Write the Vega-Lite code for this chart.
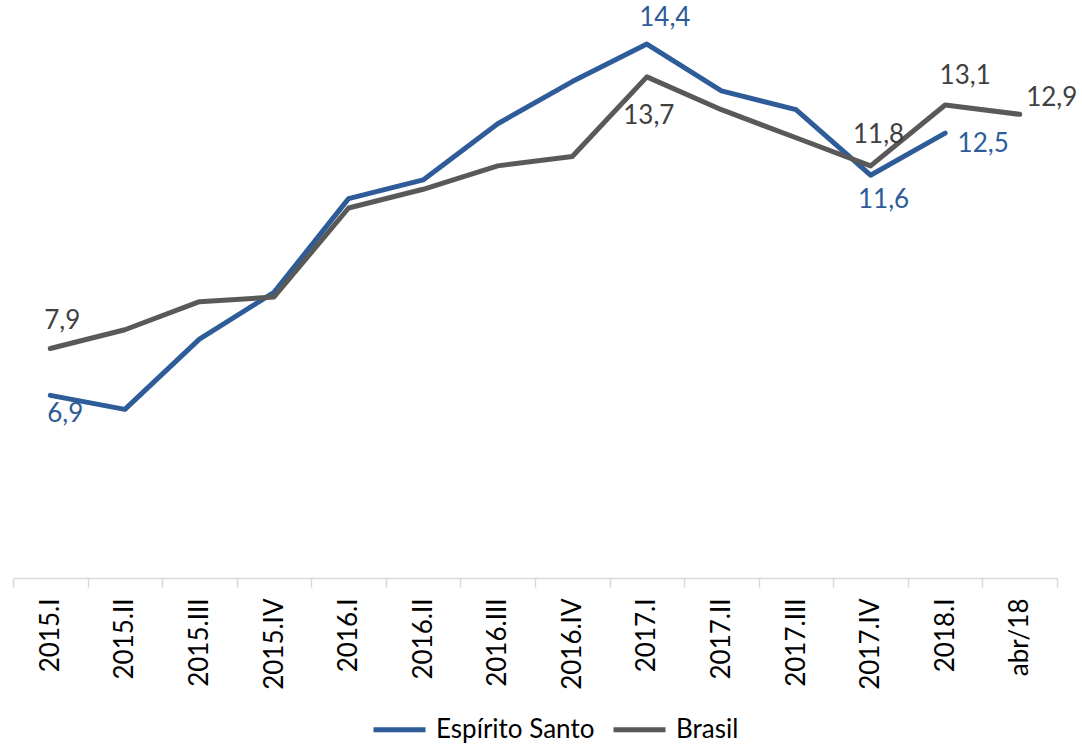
{
  "$schema": "https://vega.github.io/schema/vega-lite/v6.json",
  "autosize": {"type": "none"},
  "width": 1044,
  "height": 562,
  "padding": {"left": 13, "top": 16, "right": 25, "bottom": 168},
  "background": "white",
  "config": {
    "view": {"stroke": null},
    "font": "Lato",
    "text": {"font": "Lato", "fontSize": 26}
  },
  "data": {
    "values": [
      {"cat": "2015.I", "serie": "Espírito Santo", "v": 6.9},
      {"cat": "2015.II", "serie": "Espírito Santo", "v": 6.6},
      {"cat": "2015.III", "serie": "Espírito Santo", "v": 8.1},
      {"cat": "2015.IV", "serie": "Espírito Santo", "v": 9.1},
      {"cat": "2016.I", "serie": "Espírito Santo", "v": 11.1},
      {"cat": "2016.II", "serie": "Espírito Santo", "v": 11.5},
      {"cat": "2016.III", "serie": "Espírito Santo", "v": 12.7},
      {"cat": "2016.IV", "serie": "Espírito Santo", "v": 13.6},
      {"cat": "2017.I", "serie": "Espírito Santo", "v": 14.4},
      {"cat": "2017.II", "serie": "Espírito Santo", "v": 13.4},
      {"cat": "2017.III", "serie": "Espírito Santo", "v": 13.0},
      {"cat": "2017.IV", "serie": "Espírito Santo", "v": 11.6},
      {"cat": "2018.I", "serie": "Espírito Santo", "v": 12.5},
      {"cat": "2015.I", "serie": "Brasil", "v": 7.9},
      {"cat": "2015.II", "serie": "Brasil", "v": 8.3},
      {"cat": "2015.III", "serie": "Brasil", "v": 8.9},
      {"cat": "2015.IV", "serie": "Brasil", "v": 9.0},
      {"cat": "2016.I", "serie": "Brasil", "v": 10.9},
      {"cat": "2016.II", "serie": "Brasil", "v": 11.3},
      {"cat": "2016.III", "serie": "Brasil", "v": 11.8},
      {"cat": "2016.IV", "serie": "Brasil", "v": 12.0},
      {"cat": "2017.I", "serie": "Brasil", "v": 13.7},
      {"cat": "2017.II", "serie": "Brasil", "v": 13.0},
      {"cat": "2017.III", "serie": "Brasil", "v": 12.4},
      {"cat": "2017.IV", "serie": "Brasil", "v": 11.8},
      {"cat": "2018.I", "serie": "Brasil", "v": 13.1},
      {"cat": "abr/18", "serie": "Brasil", "v": 12.9}
    ]
  },
  "transform": [
    {"calculate": "replace(format(datum.v, '.1f'), '.', ',')", "as": "lbl"},
    {"calculate": "datum.serie + '|' + datum.cat", "as": "key"}
  ],
  "encoding": {
    "x": {
      "field": "cat",
      "type": "nominal",
      "sort": null,
      "scale": {"type": "band", "paddingInner": 0, "paddingOuter": 0},
      "axis": {
        "title": null,
        "labelAngle": -90,
        "labelAlign": "right",
        "labelBaseline": "middle",
        "labelFont": "Lato",
        "labelFontSize": 26,
        "labelColor": "#000000",
        "labelPadding": 11,
        "domainColor": "#D9D9D9",
        "domainWidth": 1.5,
        "tickColor": "#D9D9D9",
        "tickWidth": 1.5,
        "tickSize": 9,
        "tickBand": "extent",
        "grid": false
      }
    },
    "y": {
      "field": "v",
      "type": "quantitative",
      "scale": {"domain": [3, 15], "nice": false, "zero": false},
      "axis": null
    }
  },
  "layer": [
    {
      "transform": [{"filter": "datum.serie == 'Espírito Santo'"}],
      "mark": {"type": "line", "strokeWidth": 5, "strokeJoin": "round", "strokeCap": "round"},
      "encoding": {
        "color": {
          "field": "serie",
          "type": "nominal",
          "scale": {"domain": ["Espírito Santo", "Brasil"], "range": ["#2D5C98", "#595959"]},
          "legend": {
            "title": null,
            "orient": "none",
            "legendX": 358,
            "legendY": 685,
            "direction": "horizontal",
            "symbolType": "stroke",
            "symbolSize": 2704,
            "symbolStrokeWidth": 5,
            "labelFont": "Lato",
            "labelFontSize": 26,
            "labelColor": "#000000",
            "labelOffset": 8,
            "columnPadding": 8
          }
        }
      }
    },
    {
      "transform": [{"filter": "datum.serie == 'Brasil'"}],
      "mark": {"type": "line", "strokeWidth": 5, "strokeJoin": "round", "strokeCap": "round"},
      "encoding": {"color": {"field": "serie", "type": "nominal"}}
    },
    {
      "transform": [{"filter": "datum.key == 'Espírito Santo|2015.I'"}],
      "mark": {"type": "text", "color": "#2D5C98", "dx": 15, "dy": 19},
      "encoding": {"text": {"field": "lbl"}}
    },
    {
      "transform": [{"filter": "datum.key == 'Espírito Santo|2017.I'"}],
      "mark": {"type": "text", "color": "#2D5C98", "dx": 18, "dy": -26},
      "encoding": {"text": {"field": "lbl"}}
    },
    {
      "transform": [{"filter": "datum.key == 'Espírito Santo|2017.IV'"}],
      "mark": {"type": "text", "color": "#2D5C98", "dx": 13, "dy": 25},
      "encoding": {"text": {"field": "lbl"}}
    },
    {
      "transform": [{"filter": "datum.key == 'Espírito Santo|2018.I'"}],
      "mark": {"type": "text", "color": "#2D5C98", "dx": 38, "dy": 11},
      "encoding": {"text": {"field": "lbl"}}
    },
    {
      "transform": [{"filter": "datum.key == 'Brasil|2015.I'"}],
      "mark": {"type": "text", "color": "#404040", "dx": 12, "dy": -28},
      "encoding": {"text": {"field": "lbl"}}
    },
    {
      "transform": [{"filter": "datum.key == 'Brasil|2017.I'"}],
      "mark": {"type": "text", "color": "#404040", "dx": 2, "dy": 39},
      "encoding": {"text": {"field": "lbl"}}
    },
    {
      "transform": [{"filter": "datum.key == 'Brasil|2017.IV'"}],
      "mark": {"type": "text", "color": "#404040", "dx": 8, "dy": -31},
      "encoding": {"text": {"field": "lbl"}}
    },
    {
      "transform": [{"filter": "datum.key == 'Brasil|2018.I'"}],
      "mark": {"type": "text", "color": "#404040", "dx": 20, "dy": -29},
      "encoding": {"text": {"field": "lbl"}}
    },
    {
      "transform": [{"filter": "datum.key == 'Brasil|abr/18'"}],
      "mark": {"type": "text", "color": "#404040", "dx": 32, "dy": -16},
      "encoding": {"text": {"field": "lbl"}}
    }
  ]
}
